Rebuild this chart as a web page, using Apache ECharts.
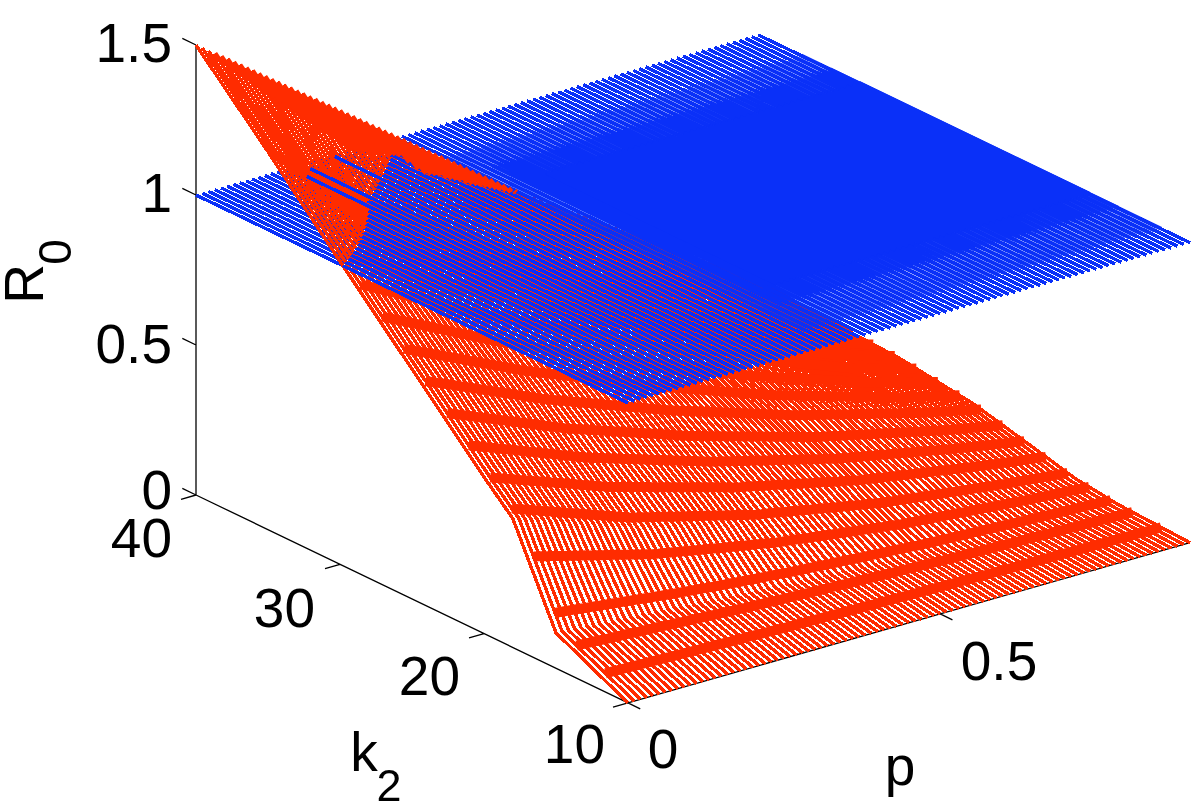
<!DOCTYPE html>
<html><head><meta charset="utf-8">
<style>html,body{margin:0;background:#fff}#c{width:1200px;height:809px;filter:blur(0.35px)}#c svg path[stroke-width="3.4"]{shape-rendering:crispEdges}</style>
<script src="https://cdn.jsdelivr.net/npm/echarts@6/dist/echarts.min.js"></script>
</head><body><div id="c"></div>
<script>
const rTicks = [0, 0.5, 1, 1.5];
const kTicks = [40, 30, 20, 10];
const pTicks = [0, 0.5];
const pValues = [0,.01,.02,.03,.04,.05,.06,.07,.08,.09,.1,.11,.12,.13,.14,.15,.16,.17,.18,.19,.2,.21,.22,.23,.24,.25,.26,.27,.28,.29,.3,.31,.32,.33,.34,.35,.36,.37,.38,.39,.4,.41,.42,.43,.44,.45,.46,.47,.48,.49,.5,.51,.52,.53,.54,.55,.56,.57,.58,.59,.6,.61,.62,.63,.64,.65,.66,.67,.68,.69,.7,.71,.72,.73,.74,.75,.76,.77,.78,.79,.8,.81,.82,.83,.84,.85,.86,.87,.88,.89,.9];
const kRows = [10, 15, 18, 20, 25, 30, 35, 40];
const blueK = [10, 40];
const blueR = 1;
const redK10 = [0,0,0,0,0,0,0,0,0,0,0,0,0,0,0,0,0,0,0,0,0,0,0,0,0,0,0,0,0,0,0,0,0,0,0,0,0,0,0,0,0,0,0,0,0,0,0,0,0,0,0,0,0,0,0,0,0,0,0,0,0,0,0,0,0,0,0,0,0,0,0,0,0,0,0,0,0,0,0,0,0,0,0,0,0,0,0,0,0,0,0];
const redK15 = [.118,.116,.115,.113,.112,.110,.108,.107,.105,.104,.102,.100,.099,.097,.096,.094,.092,.091,.089,.088,.086,.084,.083,.081,.080,.078,.076,.075,.073,.072,.070,.069,.068,.066,.065,.064,.063,.062,.060,.059,.058,.057,.056,.055,.053,.052,.051,.050,.049,.047,.046,.045,.044,.043,.042,.041,.040,.039,.038,.036,.035,.034,.033,.033,.032,.031,.030,.029,.029,.028,.027,.026,.025,.025,.024,.023,.022,.021,.021,.020,.019,.018,.018,.017,.016,.015,.015,.014,.013,.013,.012];
const redK18 = [.430,.423,.415,.408,.400,.393,.385,.378,.370,.363,.355,.348,.340,.333,.325,.318,.310,.303,.295,.288,.280,.275,.270,.264,.259,.254,.249,.243,.238,.233,.228,.222,.217,.212,.207,.201,.196,.191,.186,.180,.175,.171,.168,.164,.160,.156,.153,.149,.145,.141,.138,.134,.130,.126,.123,.119,.115,.111,.108,.104,.100,.098,.095,.093,.090,.088,.085,.083,.080,.078,.075,.073,.070,.068,.065,.063,.060,.058,.055,.053,.050,.048,.046,.044,.042,.040,.038,.036,.034,.032,.030];
const redK20 = [.522,.514,.507,.499,.492,.484,.476,.469,.461,.454,.446,.438,.431,.423,.416,.408,.400,.393,.385,.378,.370,.364,.358,.352,.346,.340,.334,.328,.322,.316,.310,.304,.298,.292,.286,.280,.274,.268,.262,.256,.250,.245,.241,.236,.231,.226,.222,.217,.212,.207,.203,.198,.193,.188,.184,.179,.174,.169,.165,.160,.155,.152,.148,.145,.141,.138,.134,.131,.127,.124,.120,.117,.113,.110,.106,.103,.099,.096,.092,.089,.085,.082,.079,.076,.073,.070,.067,.064,.061,.058,.055];
const redK25 = [.766,.757,.747,.738,.729,.720,.710,.701,.692,.682,.673,.664,.654,.645,.636,.627,.617,.608,.599,.589,.580,.572,.564,.556,.548,.540,.532,.524,.516,.508,.500,.492,.484,.476,.468,.460,.452,.444,.436,.428,.420,.413,.406,.399,.392,.385,.378,.371,.364,.357,.350,.343,.336,.329,.322,.315,.308,.301,.294,.287,.280,.274,.269,.263,.257,.251,.246,.240,.234,.228,.223,.217,.211,.205,.200,.194,.188,.182,.177,.171,.165,.160,.155,.150,.145,.140,.135,.130,.125,.120,.115];
const redK30 = [1.010,.998,.987,.975,.964,.952,.941,.929,.918,.906,.895,.883,.872,.860,.849,.837,.826,.814,.803,.791,.780,.770,.759,.749,.738,.728,.717,.707,.696,.686,.675,.665,.654,.644,.633,.623,.612,.602,.591,.581,.570,.561,.551,.542,.532,.523,.513,.504,.494,.485,.475,.466,.456,.447,.437,.428,.418,.409,.399,.390,.380,.372,.363,.355,.346,.338,.329,.321,.312,.304,.295,.287,.278,.270,.261,.253,.244,.236,.227,.219,.210,.204,.198,.191,.185,.179,.173,.167,.160,.154,.148];
const redK35 = [1.260,1.244,1.227,1.211,1.195,1.179,1.162,1.146,1.130,1.114,1.098,1.081,1.065,1.049,1.033,1.016,1.000,.986,.973,.959,.946,.932,.919,.905,.891,.878,.864,.851,.837,.824,.810,.798,.785,.773,.760,.748,.735,.723,.710,.698,.685,.673,.660,.648,.635,.623,.610,.598,.585,.573,.560,.549,.537,.526,.514,.503,.491,.480,.468,.457,.445,.434,.422,.411,.399,.388,.376,.365,.353,.342,.330,.321,.313,.304,.296,.287,.279,.270,.262,.253,.245,.236,.228,.219,.211,.202,.194,.185,.177,.168,.160];
const redK40 = [1.500,1.485,1.469,1.454,1.438,1.423,1.407,1.392,1.376,1.361,1.345,1.330,1.314,1.299,1.283,1.268,1.252,1.237,1.221,1.206,1.190,1.175,1.159,1.144,1.128,1.113,1.097,1.082,1.066,1.051,1.035,1.020,1.004,.989,.973,.958,.942,.927,.911,.896,.880,.865,.849,.834,.818,.803,.787,.772,.756,.741,.725,.711,.698,.684,.671,.657,.643,.630,.616,.603,.589,.575,.562,.548,.535,.521,.507,.494,.480,.467,.453,.439,.426,.412,.399,.385,.371,.358,.344,.331,.317,.303,.290,.276,.263,.249,.235,.222,.208,.195,.181];
const redRows = [redK10, redK15, redK18, redK20, redK25, redK30, redK35, redK40];
// k2 rows where the red lines close up into bands across p
const redBandK = [12, 14, 15.5, 17, 18.5, 20, 21.5, 23, 24.5, 26, 27.5, 29, 30.5, 32, 33.5, 35];
// where the reference's drawing order leaves solid red on top (first index = p 0.03)
const redSolidFromK = [39.7,39.6,39.5,39.4,39.3,39.2,39,38.9,38.8,38.7,38.6,38.5,38.4,38.3,38.2,38.1,38,37.8,37.9,38,38.1,38.2,38.3,38.4,38.5,38.6,38.7,38.8,38.6,38.4,38.3,38.4,38.5,38.6,38.6,38.7,38.8,38.9,38.9,39,39.1,39.2,39.3,39.4,39.5,39.6,39.7,39.8,39.9,40];
const redSolidFirst = 3;
// three blue lines that lie over the red surface
const blueFrontP = [.15, .17, .22];
const blueFrontK0 = [33.3, 34, 35.5];
const blueFrontK1 = [38.8, 39.4, 39.9];
// where the blue lines merge: [k2 from, k2 to, first p index]
const blueSoft = [12, 37, 33];
const blueMid = [15, 35, 36];
const blueCore = [17, 33, 40];

// orthographic view of the 3-D box, calibrated on the picture's axes
function proj(k, p, r) {
  return [196 + (40 - k) * 14.4 + p * 624.4, 495 + (40 - k) * 6.93 - p * 178 - r * 300];
}
function redPoint(k, j) {
  const i = kRows.findIndex((v, n) => k <= kRows[n + 1]);
  const t = (k - kRows[i]) / (kRows[i + 1] - kRows[i]);
  return proj(k, pValues[j], redRows[i][j] + t * (redRows[i + 1][j] - redRows[i][j]));
}
const BREAK = [null, null];
const redBelow = [], redAbove = [], blue = [], redSolid = [], blueFront = [], redBands = [];
const blueSpan = ([k0, k1, first]) => {
  const out = [];
  pValues.forEach((p, j) => { if (j >= first) out.push(proj(k0, p, blueR), proj(k1, p, blueR), BREAK); });
  return out;
};
pValues.forEach((p, j) => {
  blueK.forEach(k => blue.push(proj(k, p, blueR)));
  blue.push(BREAK);
  let prevSide = null;
  for (let i = 0; i < kRows.length; i++) {
    const k = kRows[i], r = redRows[i][j];
    const side = r > blueR;
    if (i > 0 && side !== prevSide) {
      const k0 = kRows[i - 1], r0 = redRows[i - 1][j], t = (blueR - r0) / (r - r0);
      const cross = proj(k0 + t * (k - k0), p, blueR);
      (prevSide ? redAbove : redBelow).push(cross, BREAK);
      (side ? redAbove : redBelow).push(cross);
    }
    (side ? redAbove : redBelow).push(proj(k, p, r));
    prevSide = side;
  }
  redBelow.push(BREAK); redAbove.push(BREAK);
});
redBandK.forEach(k => {
  pValues.forEach((p, j) => { if (j > 0) redBands.push(redPoint(k, j)); });
  redBands.push(BREAK);
});
redSolidFromK.forEach((k, n) => {
  const j = n + redSolidFirst;
  redSolid.push(redPoint(k, j), redPoint(40, j), BREAK);
});
blueFrontP.forEach((p, n) => {
  blueFront.push(proj(blueFrontK0[n], p, blueR), proj(blueFrontK1[n], p, blueR), BREAK);
});
const axisPts = [];
const seg = (a, b) => axisPts.push(a, b, BREAK);
seg(proj(40,0,0), proj(40,0,1.5));
seg(proj(40,0,0), proj(10,0,0));
seg(proj(10,0,0), proj(10,.9,0));
rTicks.forEach(r => seg(proj(40,0,r), proj(40.95,0,r)));
kTicks.forEach(k => seg(proj(k,0,0), proj(k,-0.024,0)));
pTicks.forEach(p => seg(proj(10,p,0), proj(9.15,p,0)));

const lineSeries = (data, color, width, z) => ({
  type: 'line', data, z, symbol: 'none', silent: true, animation: false, clip: false,
  connectNulls: false, lineStyle: { color, width, cap: 'butt', join: 'bevel' }
});
const font = 'Liberation Sans, Arial, Helvetica, sans-serif';
const T = (text, x, y, align, size, rotation) => ({
  type: 'text', x, y, rotation: rotation || 0, z: 20, silent: true,
  style: { text, font: (size || 55) + 'px ' + font, fill: '#000', align: align || 'center', verticalAlign: 'middle' }
});
const labels = [
  T('1.5', 172, 43, 'right'), T('1', 172, 193, 'right'), T('0.5', 172, 344, 'right'), T('0', 172, 490, 'right'),
  T('40', 172, 538, 'right'), T('30', 315, 608, 'right'), T('20', 460, 676, 'right'), T('10', 605, 744, 'right'),
  T('0', 663, 749), T('0.5', 999, 661),
  T('p', 900, 766),
  T('k', 364, 752), T('2', 389, 785, 'center', 45),
  T('R', 24, 284, 'center', 55, Math.PI / 2), T('0', 55, 252, 'center', 46, Math.PI / 2)
];
const chart = echarts.init(document.getElementById('c'), null, { renderer: 'svg', width: 1200, height: 809 });
chart.setOption({
  animation: false, backgroundColor: '#fff',
  grid: { left: 0, right: 0, top: 0, bottom: 0 },
  xAxis: { type: 'value', min: 0, max: 1200, show: false },
  yAxis: { type: 'value', min: 0, max: 809, inverse: true, show: false },
  series: [
    lineSeries(axisPts, '#000', 1.3, 1),
    lineSeries(redBelow, '#ff2c00', 3.4, 2),
    lineSeries(redBands, '#ff2c00', 10, 2),
    lineSeries(blue, '#0a30f8', 3.4, 3),
    lineSeries(blueSpan(blueSoft), '#0a30f8', 3.9, 4),
    lineSeries(blueSpan(blueMid), '#0a30f8', 4.3, 4),
    lineSeries(blueSpan(blueCore), '#0a30f8', 5, 4),
    lineSeries(redAbove, '#ff2c00', 3.4, 5),
    lineSeries(redSolid, '#ff2c00', 5.5, 6),
    lineSeries(blueFront, '#0a30f8', 3.4, 7)
  ],
  graphic: { elements: labels }
});
</script></body></html>
